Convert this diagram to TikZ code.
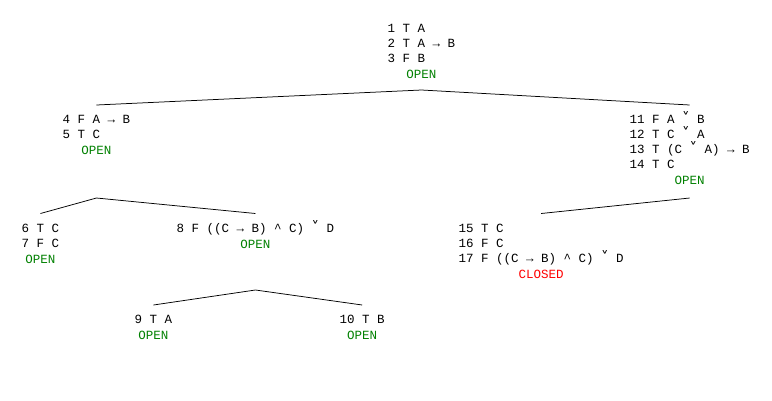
\documentclass[tikz,border=0pt]{standalone}
\usepackage{fontspec}
\usetikzlibrary{calc}
\newfontfamily\tabfont{Liberation Mono}
\newfontfamily\symfont{DejaVu Sans}
\definecolor{opengreen}{RGB}{0,128,0}
\definecolor{closedred}{RGB}{255,0,0}
\newcommand{\orsym}{\makebox[0.6em]{\smash{\symfont\fontsize{15}{15}\selectfont ˅}}}
\newcommand{\andsym}{\textasciicircum}
\newcommand{\opn}{\textcolor{opengreen}{OPEN}}
\newcommand{\cls}{\textcolor{closedred}{CLOSED}}
\newcommand{\blk}[2]{\begin{tabular}{@{}l@{}}#1\\[1pt]\multicolumn{1}{@{}c@{}}{#2}\end{tabular}}

\begin{document}
\begin{tikzpicture}[x=1pt,y=-1pt,
	fml/.style={anchor=north west,inner sep=0pt,font=\tabfont\fontsize{12.5}{15}\selectfont},
	br/.style={line width=0.75pt}]
\useasboundingbox (0,0) rectangle (772,400);
% level 1
\node[fml] (n1) at (387.5,21.5) {\blk{1 T A\\2 T A → B\\3 F B}{\opn}};
% level 2
\node[fml] (n4) at (62.5,113) {\blk{4 F A → B\\5 T C}{\opn}};
\node[fml] (n11) at (629.5,113) {\blk{11 F A \orsym{} B\\12 T C \orsym{} A\\13 T (C \orsym{} A) → B\\14 T C}{\opn}};
% level 3
\node[fml] (n6) at (21.5,221.5) {\blk{6 T C\\7 F C}{\opn}};
\node[fml] (n8) at (176.5,221.5) {\blk{8 F ((C → B) \andsym{} C) \orsym{} D}{\opn}};
\node[fml] (n15) at (458.5,221.5) {\blk{15 T C\\16 F C\\17 F ((C → B) \andsym{} C) \orsym{} D}{\cls}};
% level 4
\node[fml] (n9) at (134.5,313) {\blk{9 T A}{\opn}};
\node[fml] (n10) at (339.5,313) {\blk{10 T B}{\opn}};
% branches
\foreach \n/\d in {1/68.5,4/85,11/85,8/68.5}
	\coordinate (b\n) at ($(n\n.north)+(0,\d)$);
\foreach \p/\c in {1/4,1/11,4/6,4/8,11/15,8/9,8/10}
	\draw[br] (b\p) -- ([yshift=8pt]n\c.north);
\end{tikzpicture}
\end{document}
